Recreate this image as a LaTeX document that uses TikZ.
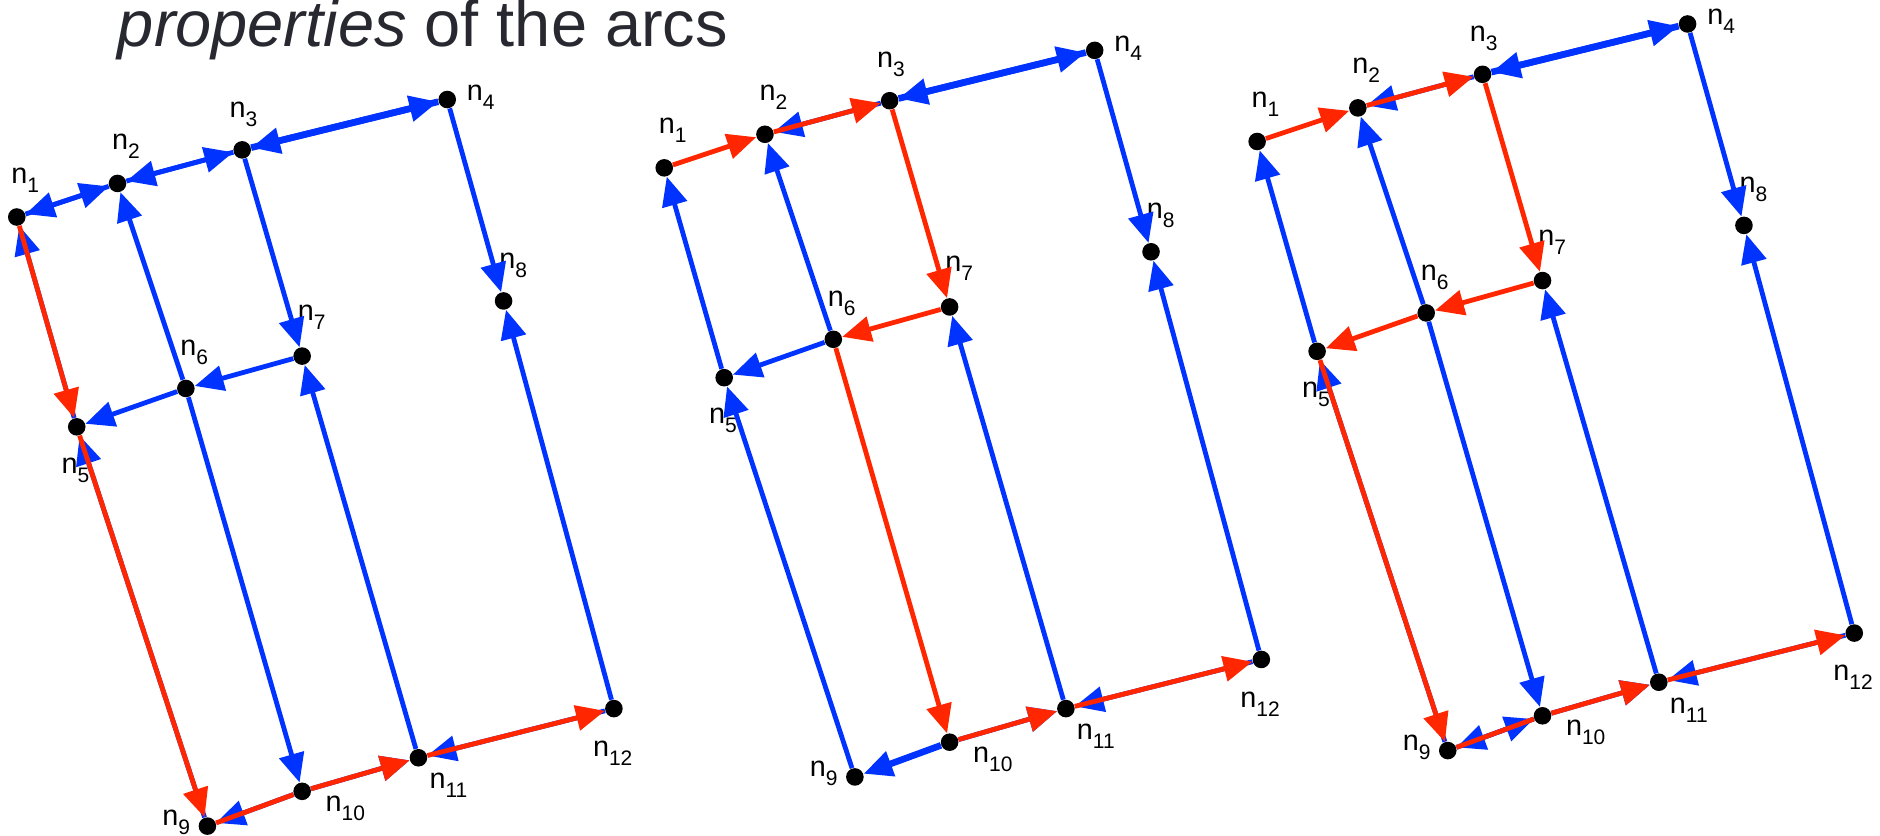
\documentclass[tikz,border=0pt]{standalone}
\usepackage{fontspec}
\setmainfont{Liberation Sans}
\usetikzlibrary{arrows.meta}
\definecolor{eblue}{RGB}{0,51,255}
\definecolor{ered}{RGB}{255,38,0}
\definecolor{tgray}{RGB}{40,40,48}
\newcommand\nlab[1]{n\raisebox{-4.5pt}{\fontsize{10.5}{12}\selectfont #1}}
\newcommand\mkpanel[1]{%
 \node[dot] (#1-1) at (14,181) {};
 \node[dot] (#1-2) at (98,153) {};
 \node[dot] (#1-3) at (202,125) {};
 \node[dot] (#1-4) at (373,83) {};
 \node[dot] (#1-5) at (64,356) {};
 \node[dot] (#1-6) at (155,324) {};
 \node[dot] (#1-7) at (252,297) {};
 \node[dot] (#1-8) at (420,251) {};
 \node[dot] (#1-9) at (173,689) {};
 \node[dot] (#1-10) at (252,660) {};
 \node[dot] (#1-11) at (349,632) {};
 \node[dot] (#1-12) at (512,591) {};
 \node[lab] (#1-l1) at (21,150) {\nlab{1}};
 \node[lab] (#1-l2) at (105,122) {\nlab{2}};
 \node[lab] (#1-l3) at (203,95) {\nlab{3}};
 \node[lab] (#1-l4) at (401,81) {\nlab{4}};
 \node[lab] (#1-l5) at (63,392) {\nlab{5}};
 \node[lab] (#1-l6) at (162,294) {\nlab{6}};
 \node[lab] (#1-l7) at (260,265) {\nlab{7}};
 \node[lab] (#1-l8) at (428,221) {\nlab{8}};
 \node[lab] (#1-l9) at (147,686) {\nlab{9}};
 \node[lab] (#1-l10) at (288,674) {\nlab{10}};
 \node[lab] (#1-l11) at (374,655) {\nlab{11}};
 \node[lab] (#1-l12) at (511,628) {\nlab{12}};
}
\newcommand\bl[3][]{\draw[bedge,#1] (#2) -- (#3);}
\newcommand\rd[3][]{\draw[redge,#1] (#2) -- (#3);}
\begin{document}
\begin{tikzpicture}[x=0.6pt,y=-0.6pt,
  dot/.style={circle,fill=black,inner sep=0pt,minimum size=8.8pt},
  lab/.style={inner sep=0pt,font=\fontsize{14.4}{17}\selectfont},
  bedge/.style={draw=eblue,line width=2.4pt,-{Triangle[length=14.5pt,width=12.5pt]}},
  redge/.style={draw=ered,line width=2.4pt,-{Triangle[length=14.5pt,width=12.5pt]}},
  thk/.style={line width=3.3pt},
  notip/.style={-}]
\fill[white] (0,0) rectangle (1568,697);
\useasboundingbox (0,0) rectangle (1568,697);
\node[anchor=base west,inner sep=0pt,text=tgray,font=\fontsize{32.5}{38}\selectfont] (title) at (98,39) {\textit{properties} of the arcs};
% ---------- panel 1
\begin{scope}
\mkpanel{a}
\bl{a-1}{a-2}\bl{a-2}{a-1}\bl{a-2}{a-3}\bl{a-3}{a-2}
\bl[thk]{a-3}{a-4}\bl[thk]{a-4}{a-3}
\bl{a-5}{a-1}\bl{a-9}{a-5}\bl{a-6}{a-2}\bl{a-6}{a-10}
\bl{a-3}{a-7}\bl{a-11}{a-7}\bl{a-4}{a-8}\bl{a-12}{a-8}
\bl{a-7}{a-6}\bl{a-6}{a-5}\bl{a-10}{a-9}\bl{a-10}{a-11}\bl{a-12}{a-11}
\rd{a-1}{a-5}\rd{a-5}{a-9}\rd[notip]{a-9}{a-10}\rd{a-10}{a-11}\rd{a-11}{a-12}
\end{scope}
% ---------- panel 2
\begin{scope}[shift={(540,-41)}]
\mkpanel{b}
\bl{b-3}{b-2}\bl[thk]{b-3}{b-4}\bl[thk]{b-4}{b-3}
\bl{b-6}{b-5}\bl{b-6}{b-2}\bl{b-5}{b-1}\bl{b-9}{b-5}
\bl{b-4}{b-8}\bl{b-12}{b-8}\bl{b-11}{b-7}
\bl[thk]{b-10}{b-9}\bl{b-10}{b-11}\bl{b-12}{b-11}
\rd{b-1}{b-2}\rd{b-2}{b-3}\rd{b-3}{b-7}\rd{b-7}{b-6}\rd{b-6}{b-10}\rd{b-10}{b-11}\rd{b-11}{b-12}
\end{scope}
% ---------- panel 3
\begin{scope}[shift={(1034.5,-63)}]
\mkpanel{c}
\bl{c-3}{c-2}\bl[thk]{c-3}{c-4}\bl[thk]{c-4}{c-3}
\bl{c-5}{c-1}\bl{c-6}{c-2}\bl{c-4}{c-8}\bl{c-12}{c-8}\bl{c-11}{c-7}
\bl{c-9}{c-5}\bl{c-6}{c-10}\bl{c-10}{c-9}\bl{c-9}{c-10}\bl{c-10}{c-11}\bl{c-12}{c-11}
\rd{c-1}{c-2}\rd{c-2}{c-3}\rd{c-3}{c-7}\rd{c-7}{c-6}\rd{c-6}{c-5}\rd{c-5}{c-9}
\rd[notip]{c-9}{c-10}\rd{c-10}{c-11}\rd{c-11}{c-12}
\end{scope}
\end{tikzpicture}
\end{document}
